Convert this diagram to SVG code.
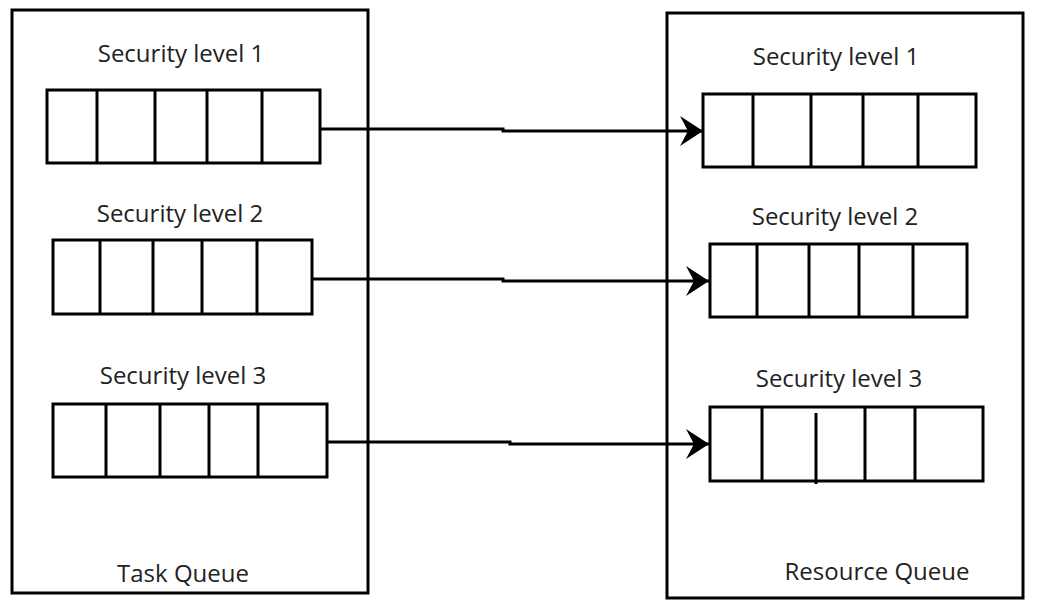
<svg xmlns="http://www.w3.org/2000/svg" width="1045" height="608" viewBox="0 0 1045 608">
<style>
.box{fill:#fff;stroke:#000;stroke-width:3}
.q{fill:none;stroke:#000;stroke-width:3}
.lbl{font-family:"Open Sans","DejaVu Sans",sans-serif;font-size:24px;fill:#222;text-anchor:middle}
.conn{fill:none;stroke:#000;stroke-width:3}
</style>
<defs>
<marker id="arr" markerUnits="userSpaceOnUse" markerWidth="26" markerHeight="32" refX="23" refY="15" orient="auto">
<path d="M0,0 L23,15 L0,30 L8,15 Z" fill="#000"/>
</marker>
</defs>
<rect width="1045" height="608" fill="#fff"/>
<g id="task-queue">
<rect class="box" x="12" y="10" width="356" height="583"/>
<text class="lbl" x="183" y="582">Task Queue</text>
</g>
<g id="resource-queue">
<rect class="box" x="667" y="13" width="356" height="585"/>
<text class="lbl" x="877" y="580">Resource Queue</text>
</g>
<g id="task-level-1">
<text class="lbl" x="181" y="62">Security level 1</text>
<rect class="q" x="47" y="90" width="273" height="73"/>
<path class="q" d="M97,90V163M155,90V163M207,90V163M262,90V163"/>
</g>
<g id="task-level-2">
<text class="lbl" x="180" y="222">Security level 2</text>
<rect class="q" x="53" y="240" width="259" height="74"/>
<path class="q" d="M100,240V314M153,240V314M202,240V314M257,240V314"/>
</g>
<g id="task-level-3">
<text class="lbl" x="183" y="384">Security level 3</text>
<rect class="q" x="53" y="404" width="274" height="73"/>
<path class="q" d="M106,404V477M160,404V477M209,404V477M258,404V477"/>
</g>
<g id="res-level-1">
<text class="lbl" x="836" y="65">Security level 1</text>
<rect class="q" x="703" y="94" width="273" height="73"/>
<path class="q" d="M753,94V167M811,94V167M863,94V167M918,94V167"/>
</g>
<g id="res-level-2">
<text class="lbl" x="835" y="225">Security level 2</text>
<rect class="q" x="710" y="244" width="257" height="73"/>
<path class="q" d="M757,244V317M809,244V317M859,244V317M913,244V317"/>
</g>
<g id="res-level-3">
<text class="lbl" x="839" y="387">Security level 3</text>
<rect class="q" x="710" y="407" width="273" height="74"/>
<path class="q" d="M762,407V481M816,413V484M865,407V481M915,407V481"/>
</g>
<g id="connectors">
<path class="conn" d="M320,129H503V131H703" marker-end="url(#arr)"/>
<path class="conn" d="M312,279H503V281H709" marker-end="url(#arr)"/>
<path class="conn" d="M327,442H510V444H709" marker-end="url(#arr)"/>
</g>
</svg>
